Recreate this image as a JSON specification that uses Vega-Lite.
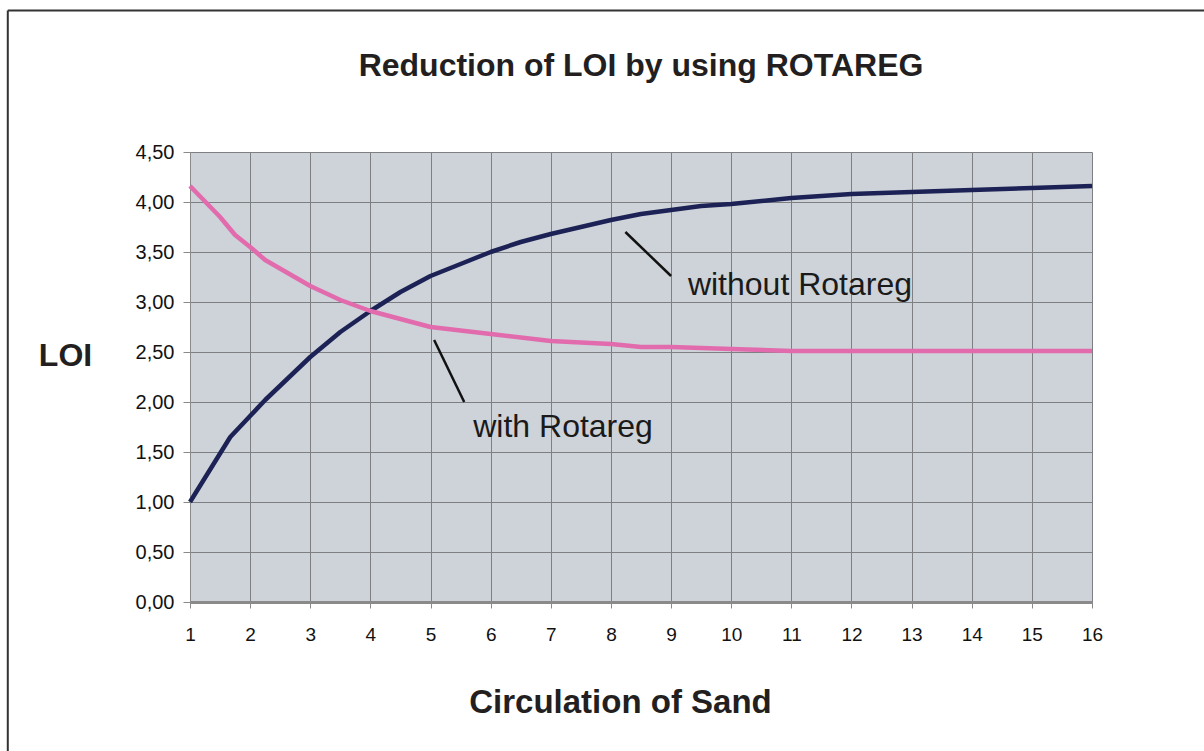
{
  "$schema": "https://vega.github.io/schema/vega-lite/v6.json",
  "width": 902,
  "height": 450,
  "autosize": {"type": "none"},
  "padding": {"left": 190, "top": 152, "right": 112, "bottom": 149},
  "background": "white",
  "title": {
    "text": "Reduction of LOI by using ROTAREG",
    "font": "Liberation Sans",
    "fontSize": 32,
    "fontWeight": "bold",
    "color": "#231f20",
    "anchor": "middle",
    "frame": "group",
    "baseline": "alphabetic",
    "offset": -98
  },
  "config": {
    "view": {"fill": "#cdd3d8", "stroke": null},
    "axis": {
      "labelFont": "Liberation Sans",
      "labelColor": "#111111",
      "gridColor": "#7d7f82",
      "gridWidth": 1,
      "gridOpacity": 1,
      "tickColor": "#8a8a8a",
      "domainColor": "#8a8a8a"
    }
  },
  "datasets": {
    "curves": [
      {"circulation": 1, "loi": 1.00, "series": "without Rotareg"},
      {"circulation": 1.67, "loi": 1.65, "series": "without Rotareg"},
      {"circulation": 2.25, "loi": 2.02, "series": "without Rotareg"},
      {"circulation": 3, "loi": 2.45, "series": "without Rotareg"},
      {"circulation": 3.5, "loi": 2.70, "series": "without Rotareg"},
      {"circulation": 4, "loi": 2.91, "series": "without Rotareg"},
      {"circulation": 4.5, "loi": 3.10, "series": "without Rotareg"},
      {"circulation": 5, "loi": 3.26, "series": "without Rotareg"},
      {"circulation": 5.5, "loi": 3.38, "series": "without Rotareg"},
      {"circulation": 6, "loi": 3.50, "series": "without Rotareg"},
      {"circulation": 6.5, "loi": 3.60, "series": "without Rotareg"},
      {"circulation": 7, "loi": 3.68, "series": "without Rotareg"},
      {"circulation": 8, "loi": 3.82, "series": "without Rotareg"},
      {"circulation": 8.5, "loi": 3.88, "series": "without Rotareg"},
      {"circulation": 9, "loi": 3.92, "series": "without Rotareg"},
      {"circulation": 9.5, "loi": 3.96, "series": "without Rotareg"},
      {"circulation": 10, "loi": 3.98, "series": "without Rotareg"},
      {"circulation": 11, "loi": 4.04, "series": "without Rotareg"},
      {"circulation": 12, "loi": 4.08, "series": "without Rotareg"},
      {"circulation": 13, "loi": 4.10, "series": "without Rotareg"},
      {"circulation": 14, "loi": 4.12, "series": "without Rotareg"},
      {"circulation": 15, "loi": 4.14, "series": "without Rotareg"},
      {"circulation": 16, "loi": 4.16, "series": "without Rotareg"},
      {"circulation": 1, "loi": 4.16, "series": "with Rotareg"},
      {"circulation": 1.5, "loi": 3.85, "series": "with Rotareg"},
      {"circulation": 1.75, "loi": 3.67, "series": "with Rotareg"},
      {"circulation": 2, "loi": 3.55, "series": "with Rotareg"},
      {"circulation": 2.25, "loi": 3.42, "series": "with Rotareg"},
      {"circulation": 3, "loi": 3.16, "series": "with Rotareg"},
      {"circulation": 3.5, "loi": 3.02, "series": "with Rotareg"},
      {"circulation": 4, "loi": 2.91, "series": "with Rotareg"},
      {"circulation": 5, "loi": 2.75, "series": "with Rotareg"},
      {"circulation": 6, "loi": 2.68, "series": "with Rotareg"},
      {"circulation": 7, "loi": 2.61, "series": "with Rotareg"},
      {"circulation": 8, "loi": 2.58, "series": "with Rotareg"},
      {"circulation": 8.5, "loi": 2.55, "series": "with Rotareg"},
      {"circulation": 9, "loi": 2.55, "series": "with Rotareg"},
      {"circulation": 10, "loi": 2.53, "series": "with Rotareg"},
      {"circulation": 11, "loi": 2.51, "series": "with Rotareg"},
      {"circulation": 12, "loi": 2.51, "series": "with Rotareg"},
      {"circulation": 13, "loi": 2.51, "series": "with Rotareg"},
      {"circulation": 14, "loi": 2.51, "series": "with Rotareg"},
      {"circulation": 15, "loi": 2.51, "series": "with Rotareg"},
      {"circulation": 16, "loi": 2.51, "series": "with Rotareg"}
    ]
  },
  "layer": [
    {
      "data": {"name": "curves"},
      "mark": {"type": "line", "strokeWidth": 4.5, "strokeJoin": "round"},
      "encoding": {
        "x": {
          "field": "circulation",
          "type": "quantitative",
          "scale": {"domain": [1, 16], "nice": false, "zero": false},
          "axis": {
            "values": [1, 2, 3, 4, 5, 6, 7, 8, 9, 10, 11, 12, 13, 14, 15, 16],
            "format": "d",
            "labelFlush": false,
            "grid": true,
            "labelFontSize": 19,
            "labelPadding": 17,
            "tickSize": 6,
            "domainWidth": 3,
            "title": "Circulation of Sand",
            "titleFont": "Liberation Sans",
            "titleFontSize": 33,
            "titleFontWeight": "bold",
            "titleColor": "#231f20",
            "titleX": 430,
            "titleY": 110,
            "titleAlign": "center",
            "titleBaseline": "alphabetic"
          }
        },
        "y": {
          "field": "loi",
          "type": "quantitative",
          "scale": {"domain": [0, 4.5], "nice": false},
          "axis": {
            "values": [0, 0.5, 1, 1.5, 2, 2.5, 3, 3.5, 4, 4.5],
            "grid": true,
            "labelExpr": "replace(format(datum.value, '.2f'), '.', ',')",
            "labelFontSize": 20,
            "labelPadding": 9,
            "tickSize": 7,
            "domainWidth": 1,
            "title": "LOI",
            "titleFont": "Liberation Sans",
            "titleFontSize": 32,
            "titleFontWeight": "bold",
            "titleColor": "#231f20",
            "titleAngle": 0,
            "titleX": -125,
            "titleY": 203,
            "titleAlign": "center",
            "titleBaseline": "middle"
          }
        },
        "color": {
          "field": "series",
          "type": "nominal",
          "scale": {"domain": ["without Rotareg", "with Rotareg"], "range": ["#1d2256", "#e26bae"]},
          "legend": null
        },
        "detail": {"field": "series"}
      }
    },
    {
      "data": {"values": [{}]},
      "mark": {"type": "rule", "color": "#111111", "strokeWidth": 2.5},
      "encoding": {
        "x": {"datum": 8.24, "type": "quantitative"},
        "y": {"datum": 3.70, "type": "quantitative"},
        "x2": {"datum": 9.0},
        "y2": {"datum": 3.26}
      }
    },
    {
      "data": {"values": [{}]},
      "mark": {"type": "rule", "color": "#111111", "strokeWidth": 2.5},
      "encoding": {
        "x": {"datum": 5.06, "type": "quantitative"},
        "y": {"datum": 2.62, "type": "quantitative"},
        "x2": {"datum": 5.56},
        "y2": {"datum": 2.00}
      }
    },
    {
      "data": {"values": [{}]},
      "mark": {"type": "text", "text": "without Rotareg", "font": "Liberation Sans", "fontSize": 32, "align": "left", "baseline": "alphabetic", "color": "#1a1a1a"},
      "encoding": {
        "x": {"datum": 9.28, "type": "quantitative"},
        "y": {"datum": 3.07, "type": "quantitative"}
      }
    },
    {
      "data": {"values": [{}]},
      "mark": {"type": "text", "text": "with Rotareg", "font": "Liberation Sans", "fontSize": 32, "align": "left", "baseline": "alphabetic", "color": "#1a1a1a"},
      "encoding": {
        "x": {"datum": 5.71, "type": "quantitative"},
        "y": {"datum": 1.65, "type": "quantitative"}
      }
    },
    {
      "data": {"values": [{}]},
      "mark": {"type": "rule", "color": "#333333", "strokeWidth": 2},
      "encoding": {
        "x": {"datum": -2.03, "type": "quantitative"},
        "y": {"datum": 5.915, "type": "quantitative"},
        "y2": {"datum": -1.7}
      }
    },
    {
      "data": {"values": [{}]},
      "mark": {"type": "rule", "color": "#333333", "strokeWidth": 2},
      "encoding": {
        "x": {"datum": -2.03, "type": "quantitative"},
        "x2": {"datum": 18},
        "y": {"datum": 5.915, "type": "quantitative"}
      }
    }
  ]
}
